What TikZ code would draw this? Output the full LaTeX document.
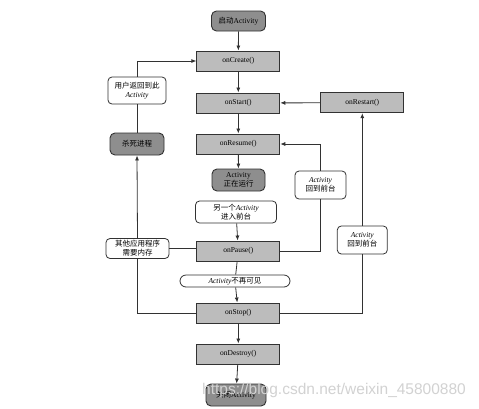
\documentclass[tikz,border=0pt]{standalone}
\usepackage{fontspec}
\setmainfont{Liberation Serif}
\newfontfamily\cjk{Noto Sans CJK SC}
\newfontfamily\wmfont{Liberation Sans}
\usetikzlibrary{arrows.meta}
\definecolor{boxgray}{RGB}{188,188,188}
\definecolor{darkbox}{RGB}{142,142,142}
\definecolor{edge}{RGB}{50,50,50}
\begin{document}
\begin{tikzpicture}[x=1pt,y=-1pt,
  method/.style={draw=edge, line width=0.9pt, fill=boxgray, minimum width=83pt, minimum height=20pt, inner sep=1pt, font=\fontsize{7.5}{9}\selectfont},
  statebox/.style={draw=edge, line width=0.9pt, fill=darkbox, rounded corners=5pt, inner sep=1pt, align=center, font=\fontsize{7.5}{9}\selectfont},
  notebox/.style={draw=edge, line width=0.8pt, fill=white, rounded corners=4pt, inner sep=1pt, align=center, font=\fontsize{7.5}{9}\selectfont},
  conn/.style={draw=edge, line width=0.8pt},
  arr/.style={conn, -{Latex[length=5pt,width=4pt]}}]
\fill[white] (0,0) rectangle (479,408);
\useasboundingbox (0,0) rectangle (479,408);

\node[statebox, minimum width=54pt, minimum height=20pt] (start) at (238.5,21) {{\cjk 启动}Activity};
\node[method] (create) at (238.3,61) {onCreate()};
\node[method] (onstart) at (238.3,103) {onStart()};
\node[method] (restart) at (362.3,102.7) {onRestart()};
\node[method] (resume) at (238.3,144) {onResume()};
\node[statebox, minimum width=53pt, minimum height=22pt] (running) at (238.5,180) {Activity\\{\cjk 正在运行}};
\node[notebox, minimum width=81pt, minimum height=22pt] (other) at (236,212) {{\cjk 另一个}\textit{Activity}\\{\cjk 进入前台}};
\node[method] (pause) at (238.3,251) {onPause()};
\node[notebox, rounded corners=6pt, minimum width=110pt, minimum height=12pt] (notvis) at (235,281) {\textit{Activity}{\cjk 不再可见}};
\node[method] (stop) at (238.3,313) {onStop()};
\node[method] (destroy) at (238.3,354) {onDestroy()};
\node[statebox, minimum width=60pt, minimum height=22pt] (close) at (236,395) {{\cjk 关闭}Activity};

\node[notebox, minimum width=58pt, minimum height=27pt] (userback) at (137,90.5) {{\cjk 用户返回到此}\\\textit{Activity}};
\node[statebox, minimum width=54pt, minimum height=22pt] (kill) at (137,144) {\cjk 杀死进程};
\node[notebox, minimum width=63pt, minimum height=20pt] (othermem) at (137.5,248.5) {{\cjk 其他应用程序}\\{\cjk 需要内存}};
\node[notebox, minimum width=51pt, minimum height=28pt] (fg1) at (320.5,185) {\textit{Activity}\\{\cjk 回到前台}};
\node[notebox, minimum width=50pt, minimum height=28pt] (fg2) at (362.3,240) {\textit{Activity}\\{\cjk 回到前台}};

\draw[arr] (start) -- (create);
\draw[arr] (create) -- (onstart);
\draw[arr] (onstart) -- (resume);
\draw[arr] (resume) -- (running);
\draw[arr] (other) -- (pause);
\draw[conn] (pause) -- (notvis);
\draw[arr] (notvis) -- (stop);
\draw[arr] (stop) -- (destroy);
\draw[arr] (destroy) -- (close);
\draw[arr] (restart) -- (onstart);
\draw[arr] (fg2) -- (restart);
\draw[conn] (stop.east) -| (fg2.south);
\draw[conn] (pause.east) -| (fg1.south);
\draw[arr] (fg1.north) |- (resume.east);
\draw[conn] (stop.west) -| (othermem.south);
\draw[conn] (othermem.east) -- (othermem.east -| pause.west);
\draw[arr] (othermem.north) -- (kill.south);
\draw[conn] (kill.north) -- (userback.south);
\draw[arr] (userback.north) |- (create.west);

\node[font=\wmfont\fontsize{15.5}{16}\selectfont, text=gray!35, inner sep=0pt] (wm) at (334,390) {https://blog.csdn.net/weixin\_45800880};
\end{tikzpicture}
\end{document}
